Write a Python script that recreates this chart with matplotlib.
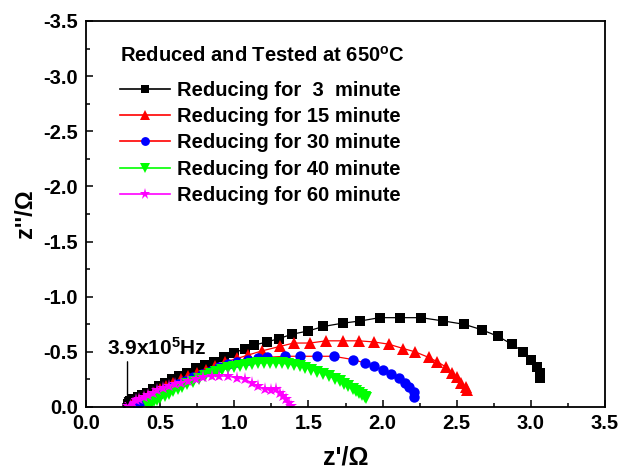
import matplotlib
matplotlib.use("Agg")
import matplotlib.pyplot as plt
from matplotlib.lines import Line2D
from matplotlib.font_manager import FontProperties

plt.rcParams['font.family'] = ['Liberation Sans', 'DejaVu Sans']
plt.rcParams['font.weight'] = 'bold'
plt.rcParams['mathtext.fontset'] = 'custom'
plt.rcParams['mathtext.rm'] = 'Liberation Sans:bold'
plt.rcParams['mathtext.bf'] = 'Liberation Sans:bold'
plt.rcParams['mathtext.default'] = 'bf'

def fp(size):
    return FontProperties(family=['Liberation Sans', 'DejaVu Sans'], weight='bold', size=size)

# ---- data (Z' in ohm, Z'' in ohm; Z'' negative) ----
x_3 = [0.28,0.30,0.32,0.35,0.38,0.41,0.45,0.49,0.53,0.58,0.63,0.68,0.74,0.80,0.86,0.93,1.00,1.07,1.13,1.22,1.30,1.39,1.50,1.60,1.73,1.85,1.98,2.12,2.26,2.41,2.55,2.67,2.78,2.87,2.95,3.00,3.04,3.06,3.06]
z_3 = [-0.03,-0.05,-0.07,-0.09,-0.11,-0.13,-0.16,-0.19,-0.22,-0.25,-0.28,-0.31,-0.35,-0.38,-0.41,-0.45,-0.49,-0.53,-0.56,-0.59,-0.62,-0.66,-0.69,-0.73,-0.76,-0.78,-0.81,-0.81,-0.81,-0.78,-0.75,-0.70,-0.64,-0.57,-0.50,-0.43,-0.36,-0.31,-0.26]

x_15 = [0.31,0.33,0.36,0.39,0.42,0.46,0.50,0.54,0.59,0.64,0.69,0.75,0.81,0.87,0.94,1.02,1.09,1.19,1.31,1.40,1.51,1.62,1.73,1.84,1.94,2.04,2.14,2.22,2.31,2.37,2.43,2.47,2.50,2.53,2.56,2.57]
z_15 = [-0.02,-0.04,-0.06,-0.08,-0.10,-0.13,-0.16,-0.19,-0.22,-0.25,-0.28,-0.31,-0.34,-0.37,-0.41,-0.44,-0.47,-0.51,-0.55,-0.58,-0.58,-0.60,-0.60,-0.60,-0.59,-0.57,-0.53,-0.50,-0.45,-0.41,-0.36,-0.31,-0.27,-0.22,-0.18,-0.15]

x_30 = [0.34,0.36,0.39,0.42,0.45,0.49,0.53,0.57,0.62,0.67,0.72,0.78,0.84,0.90,0.96,1.02,1.09,1.16,1.22,1.34,1.44,1.56,1.67,1.80,1.88,1.94,2.00,2.06,2.11,2.15,2.18,2.21,2.21]
z_30 = [-0.02,-0.04,-0.06,-0.08,-0.10,-0.12,-0.15,-0.18,-0.21,-0.24,-0.27,-0.30,-0.33,-0.36,-0.39,-0.41,-0.43,-0.44,-0.45,-0.46,-0.46,-0.46,-0.46,-0.43,-0.40,-0.37,-0.34,-0.30,-0.26,-0.22,-0.18,-0.14,-0.09]

x_40 = [0.42,0.44,0.46,0.48,0.50,0.53,0.56,0.59,0.62,0.65,0.68,0.72,0.76,0.80,0.84,0.88,0.92,0.96,1.00,1.04,1.08,1.12,1.16,1.20,1.24,1.28,1.32,1.36,1.40,1.44,1.48,1.52,1.56,1.60,1.64,1.68,1.71,1.74,1.77,1.80,1.82,1.84,1.86,1.88,1.89]
z_40 = [-0.01,-0.03,-0.05,-0.065,-0.08,-0.10,-0.12,-0.145,-0.165,-0.185,-0.205,-0.23,-0.255,-0.28,-0.30,-0.32,-0.335,-0.35,-0.365,-0.375,-0.385,-0.39,-0.395,-0.40,-0.40,-0.40,-0.395,-0.39,-0.38,-0.37,-0.355,-0.34,-0.32,-0.30,-0.28,-0.255,-0.235,-0.21,-0.19,-0.165,-0.145,-0.13,-0.11,-0.095,-0.08]

x_60 = [0.28,0.30,0.32,0.34,0.36,0.39,0.42,0.45,0.48,0.52,0.56,0.60,0.64,0.69,0.74,0.79,0.85,0.90,0.96,1.02,1.07,1.12,1.16,1.21,1.25,1.28,1.31,1.33,1.35,1.37,1.38]
z_60 = [-0.01,-0.03,-0.04,-0.06,-0.07,-0.09,-0.11,-0.13,-0.15,-0.17,-0.19,-0.21,-0.22,-0.24,-0.25,-0.27,-0.28,-0.28,-0.28,-0.26,-0.25,-0.22,-0.19,-0.16,-0.15,-0.16,-0.13,-0.10,-0.07,-0.04,-0.01]

labels = ["Reducing for  3  minute", "Reducing for 15 minute", "Reducing for 30 minute",
          "Reducing for 40 minute", "Reducing for 60 minute"]
legend_title = "Reduced and Tested at 650$^\\mathbf{o}$C"
freq_label = "3.9x10$^\\mathbf{5}$Hz"
freq_x = 0.28
x_ticks = [0.0, 0.5, 1.0, 1.5, 2.0, 2.5, 3.0, 3.5]
y_ticks = [0.0, -0.5, -1.0, -1.5, -2.0, -2.5, -3.0, -3.5]

series = [
    (x_3, z_3, 'black', 'black', 's', 6.5),
    (x_15, z_15, 'red', 'red', '^', 8),
    (x_30, z_30, 'red', 'blue', 'o', 7.5),
    (x_40, z_40, '#00FF00', '#00FF00', 'v', 8),
    (x_60, z_60, '#FF00FF', '#FF00FF', '*', 9.5),
]

fig = plt.figure(figsize=(6.2, 4.71), dpi=100)
ax = fig.add_axes([86/620, 1-407/471, (605-86)/620, (407-21)/471])

handles = []
for (xs, zs, lc, mc, m, ms), lab in zip(series, labels):
    ax.plot(xs, zs, color=lc, lw=0.9, marker=m, ms=ms, mfc=mc, mec=mc, mew=0)
    handles.append(Line2D([], [], color=lc, lw=1.2, marker=m, ms=ms*0.85, mfc=mc, mec=mc, mew=0))

ax.set_xlim(0, 3.5)
ax.set_ylim(0, -3.5)
ax.set_xticks(x_ticks)
ax.set_yticks(y_ticks)
ax.set_xticklabels([f"{v:.1f}" for v in x_ticks], fontproperties=fp(14.5))
ax.set_yticklabels([f"{v:.1f}" for v in y_ticks], fontproperties=fp(14.5))
ax.set_xticks([0.25, 0.75, 1.25, 1.75, 2.25, 2.75, 3.25], minor=True)
ax.set_yticks([-0.25, -0.75, -1.25, -1.75, -2.25, -2.75, -3.25], minor=True)
ax.tick_params(which='both', direction='in', width=1.1)
ax.tick_params(which='major', length=5)
ax.tick_params(which='minor', length=3)
ax.tick_params(axis='x', which='major', pad=5)
ax.tick_params(axis='y', which='major', pad=6)
for s in ax.spines.values():
    s.set_linewidth(1.3)

ax.set_xlabel("z'/\u03a9", fontproperties=fp(18), labelpad=9)
ax.set_ylabel("z''/\u03a9", fontproperties=fp(17), labelpad=4)

leg = ax.legend(handles, labels, title=legend_title, loc='upper left',
                bbox_to_anchor=(0.05, 0.957), frameon=False, prop=fp(14.5),
                title_fontproperties=fp(14.5),
                handlelength=2.5, handletextpad=0.35, labelspacing=0.36,
                borderaxespad=0)
leg._legend_box.align = 'left'
leg._legend_box.sep = 11

ax.text(0.14, -0.44, freq_label, fontproperties=fp(15), ha='left', va='bottom', zorder=6)
ax.annotate("", xy=(freq_x, -0.015), xytext=(freq_x, -0.41),
            arrowprops=dict(arrowstyle='-|>', color='black', lw=1.0,
                            shrinkA=0, shrinkB=0, mutation_scale=11),
            zorder=6)

fig.savefig("out.png", dpi=100)
